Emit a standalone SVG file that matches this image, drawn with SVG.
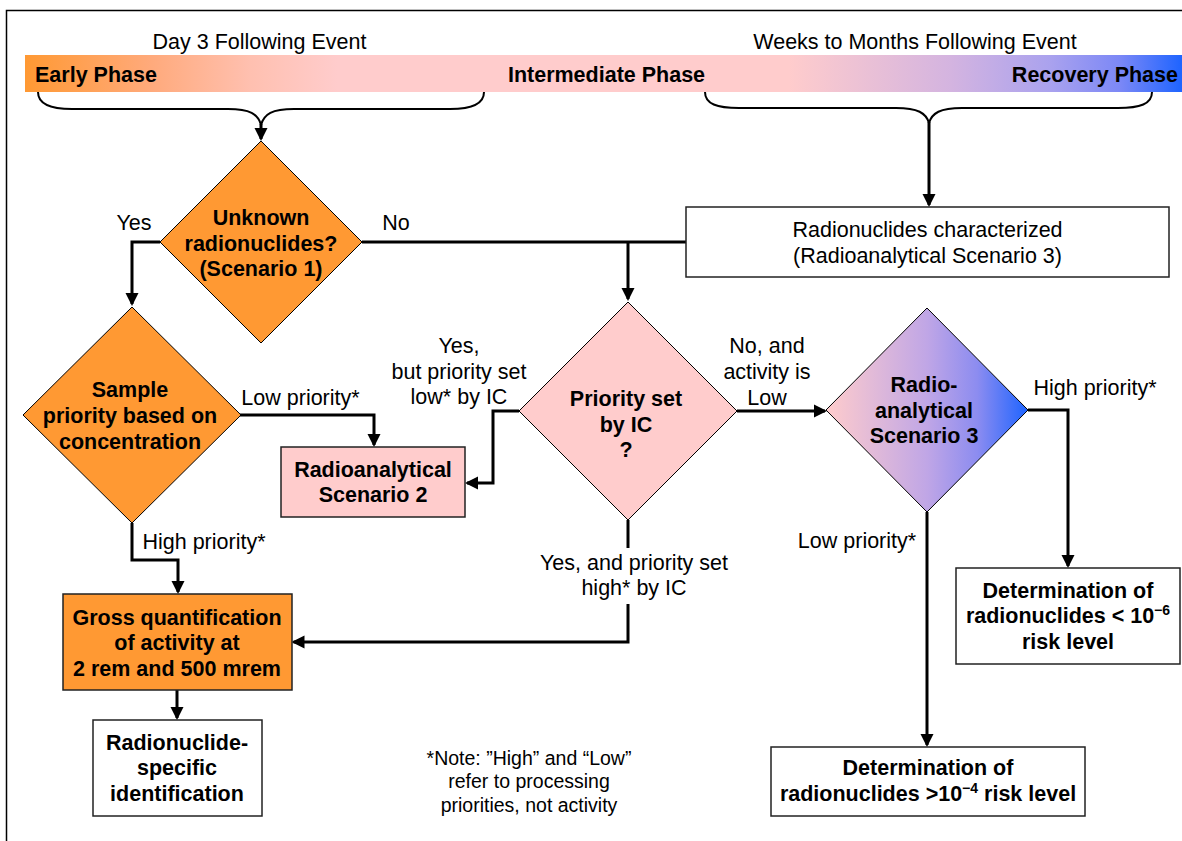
<svg xmlns="http://www.w3.org/2000/svg" width="1182" height="841" viewBox="0 0 1182 841">
<style>
.t{font-family:'Liberation Sans',Arial,sans-serif;font-size:21.5px;fill:#000;text-anchor:middle}
.b{font-weight:bold}
.n{font-size:19.5px}
.conn{fill:none;stroke:#000;stroke-width:3}
.arr{marker-end:url(#ah)}
.brace{fill:none;stroke:#000;stroke-width:2}
.dia{stroke:#000;stroke-width:1}
.box{stroke:#222;stroke-width:1.5}
.or{fill:#FF9933}
.pk{fill:#FFCCCC}
.wh{fill:#FFFFFF}
</style>
<defs>
<marker id="ah" markerUnits="userSpaceOnUse" markerWidth="14" markerHeight="14" refX="11" refY="7" orient="auto">
<path d="M0,0.5 L13,7 L0,13.5 z" fill="#000"/>
</marker>
<linearGradient id="hdr" gradientUnits="userSpaceOnUse" x1="25" y1="0" x2="1182" y2="0">
<stop offset="0" stop-color="#FF9933"/>
<stop offset="0.11" stop-color="#FFAA7C"/>
<stop offset="0.195" stop-color="#FFC0B0"/>
<stop offset="0.27" stop-color="#FFCCCC"/>
<stop offset="0.66" stop-color="#FFCCCC"/>
<stop offset="0.8" stop-color="#D4B4E0"/>
<stop offset="0.886" stop-color="#AAA2EE"/>
<stop offset="0.946" stop-color="#7C88F6"/>
<stop offset="1" stop-color="#1E64FF"/>
</linearGradient>
<linearGradient id="d4g" gradientUnits="userSpaceOnUse" x1="826" y1="0" x2="1028" y2="0">
<stop offset="0" stop-color="#FFCCCC"/>
<stop offset="0.5" stop-color="#C0A6E6"/>
<stop offset="0.75" stop-color="#8C8CF0"/>
<stop offset="1" stop-color="#1E64FF"/>
</linearGradient>
</defs>
<rect width="1182" height="841" fill="#FFFFFF"/>
<g id="frame">
<path d="M6.5,841 V10.5 H1182" fill="none" stroke="#000" stroke-width="1.5"/>
</g>
<g id="header">
<rect x="25" y="55" width="1157" height="37" fill="url(#hdr)"/>
<text class="t" x="259.5" y="49">Day 3 Following Event</text>
<text class="t" x="915" y="49">Weeks to Months Following Event</text>
<text class="t b" x="35" y="82" style="text-anchor:start">Early Phase</text>
<text class="t b" x="606.5" y="82">Intermediate Phase</text>
<text class="t b" x="1178" y="82" style="text-anchor:end">Recovery Phase</text>
<path class="brace" d="M38,92 C38,104 50,109 72,109 L228,109 C250,109 258,114 261,125 C264,114 272,109 294,109 L450,109 C472,109 484,104 484,92"/>
<path class="brace" d="M705,92 C705,104 717,108 739,108 L896,108 C918,108 926,113 929,123 C932,113 940,108 962,108 L1118,108 C1140,108 1152,104 1152,92"/>
</g>
<g id="connectors">
<path class="conn arr" d="M261,124 V139"/>
<path class="conn arr" d="M929,122 V205"/>
<path class="conn arr" d="M160,242 H132 V304"/>
<path class="conn" d="M362,242 H686"/>
<path class="conn arr" d="M628,242 V299"/>
<path class="conn arr" d="M240,415 H374 V445"/>
<path class="conn arr" d="M519,411 H493 V483 H467"/>
<path class="conn arr" d="M737,411 H825"/>
<path class="conn arr" d="M1028,410 H1068 V566"/>
<path class="conn arr" d="M927,512 V745"/>
<path class="conn arr" d="M132,523 V560 H178 V592"/>
<path class="conn" d="M628,520 V548"/>
<path class="conn arr" d="M628,604 V642 H293.5"/>
<path class="conn arr" d="M177,690 V718"/>
<text class="t" x="134" y="230">Yes</text>
<text class="t" x="396" y="230">No</text>
<text class="t" x="300.5" y="405">Low priority*</text>
<text class="t" x="459"><tspan x="459" y="353">Yes,</tspan><tspan x="459" y="379">but priority set</tspan><tspan x="459" y="404">low* by IC</tspan></text>
<text class="t" x="767"><tspan x="767" y="353">No, and</tspan><tspan x="767" y="379">activity is</tspan><tspan x="767" y="405">Low</tspan></text>
<text class="t" x="1095" y="395">High priority*</text>
<text class="t" x="857" y="548">Low priority*</text>
<text class="t" x="204" y="549">High priority*</text>
<text class="t" x="634"><tspan x="634" y="570">Yes, and priority set</tspan><tspan x="634" y="595">high* by IC</tspan></text>
</g>
<g id="d1">
<polygon class="dia or" points="261,141 362,242 261,343 160,242"/>
<text class="t b"><tspan x="261" y="225">Unknown</tspan><tspan x="261" y="250.5">radionuclides?</tspan><tspan x="261" y="276">(Scenario 1)</tspan></text>
</g>
<g id="d2">
<polygon class="dia or" points="132,307 241,415 132,523 23,415"/>
<text class="t b"><tspan x="130" y="397">Sample</tspan><tspan x="130" y="423">priority based on</tspan><tspan x="130" y="449">concentration</tspan></text>
</g>
<g id="d3">
<polygon class="dia pk" points="628,302 737,411 628,520 519,411"/>
<text class="t b"><tspan x="626" y="406">Priority set</tspan><tspan x="626" y="432">by IC</tspan><tspan x="626" y="457">?</tspan></text>
</g>
<g id="d4">
<polygon class="dia" fill="url(#d4g)" points="927,308 1028,410 927,512 826,410"/>
<text class="t b"><tspan x="924" y="392">Radio-</tspan><tspan x="924" y="418">analytical</tspan><tspan x="924" y="443">Scenario 3</tspan></text>
</g>
<g id="scen2">
<rect class="box pk" x="281" y="447" width="184" height="70"/>
<text class="t b"><tspan x="373" y="477">Radioanalytical</tspan><tspan x="373" y="502">Scenario 2</tspan></text>
</g>
<g id="characterized">
<rect class="box wh" x="686" y="207" width="483" height="70"/>
<text class="t"><tspan x="927.5" y="237">Radionuclides characterized</tspan><tspan x="927.5" y="263">(Radioanalytical Scenario 3)</tspan></text>
</g>
<g id="gross">
<rect class="box or" x="63" y="594" width="229" height="96"/>
<text class="t b"><tspan x="177" y="625">Gross quantification</tspan><tspan x="177" y="650">of activity at</tspan><tspan x="177" y="676">2 rem and 500 mrem</tspan></text>
</g>
<g id="radid">
<rect class="box wh" x="93" y="720" width="169" height="96"/>
<text class="t b"><tspan x="177" y="750">Radionuclide-</tspan><tspan x="177" y="775">specific</tspan><tspan x="177" y="801">identification</tspan></text>
</g>
<g id="det6">
<rect class="box wh" x="956" y="568" width="224" height="96"/>
<text class="t b"><tspan x="1068" y="598">Determination of</tspan><tspan x="1068" y="623">radionuclides &lt; 10<tspan dy="-8" font-size="14">−6</tspan></tspan><tspan x="1068" y="649">risk level</tspan></text>
</g>
<g id="det4">
<rect class="box wh" x="771" y="747" width="314" height="69"/>
<text class="t b"><tspan x="928" y="775">Determination of</tspan><tspan x="928" y="801">radionuclides &gt;10<tspan dy="-8" font-size="14">−4</tspan><tspan dy="8"> risk level</tspan></tspan></text>
</g>
<g id="note">
<text class="t n"><tspan x="529" y="765">*Note: ”High” and “Low”</tspan><tspan x="529" y="788">refer to processing</tspan><tspan x="529" y="812">priorities, not activity</tspan></text>
</g>
</svg>
